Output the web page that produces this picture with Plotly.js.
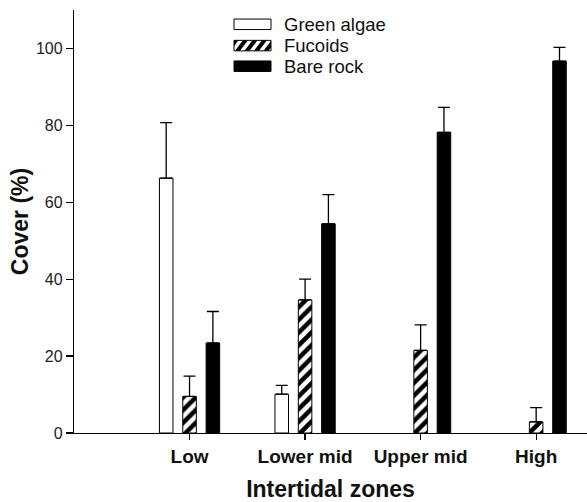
<!DOCTYPE html>
<html>
<head>
<meta charset="utf-8">
<script src="https://cdn.plot.ly/plotly-3.0.1.min.js"></script>
<style>html,body{margin:0;padding:0;background:#fff;}#chart{width:587px;height:502px;}</style>
</head>
<body>
<div id="chart"></div>
<script>
var zones = ["Low", "Lower mid", "Upper mid", "High"];
var greenAlgae = [66.3, 10.1, null, null];
var greenAlgaeErr = [14.4, 2.3, null, null];
var fucoids = [9.5, 34.6, 21.5, 2.9];
var fucoidsErr = [5.3, 5.4, 6.6, 3.7];
var bareRock = [23.4, 54.4, 78.2, 96.7];
var bareRockErr = [8.2, 7.6, 6.5, 3.6];
var seriesNames = ["Green algae", "Fucoids", "Bare rock"];

var FONT = "Liberation Sans, Arial, sans-serif";
var W = 587, H = 502, ML = 74, MR = 0, MT = 10, MB = 69;
var PW = W - ML - MR, PH = H - MT - MB;
function px(x) { return (x - ML) / PW; }
function py(y) { return (H - MB - y) / PH; }

function errOpts(arr) {
  return {type: "data", array: arr, symmetric: false, arrayminus: arr.map(function(){return 0;}),
          color: "#000", thickness: 1.3, width: 6};
}

var traces = [
  {type: "bar", name: seriesNames[0], x: zones, y: greenAlgae, showlegend: false,
   marker: {color: "#fff", line: {color: "#000", width: 1}},
   error_y: errOpts(greenAlgaeErr)},
  {type: "bar", name: seriesNames[1], x: zones, y: fucoids, showlegend: false,
   marker: {color: "#fff", line: {color: "#000", width: 1},
            pattern: {shape: "/", fgcolor: "#000", bgcolor: "#fff", size: 9, solidity: 0.5}},
   error_y: errOpts(fucoidsErr)},
  {type: "bar", name: seriesNames[2], x: zones, y: bareRock, showlegend: false,
   marker: {color: "#000", line: {color: "#000", width: 1}},
   error_y: errOpts(bareRockErr)}
];

// Custom legend with wide swatches (like the original)
var shapes = [], annotations = [];
var sx0 = 234, sx1 = 271, sh = 10.5, rows = [24.3, 45.6, 66.2], tx = 282;
var fills = ["#fff", "#fff", "#000"];
function clipPoly(poly, xmin, xmax, ymin, ymax) {
  var edges = [
    function(p){return p[0] >= xmin;}, function(p){return p[0] <= xmax;},
    function(p){return p[1] >= ymin;}, function(p){return p[1] <= ymax;}
  ];
  var inter = [
    function(a,b){var t=(xmin-a[0])/(b[0]-a[0]);return [xmin,a[1]+t*(b[1]-a[1])];},
    function(a,b){var t=(xmax-a[0])/(b[0]-a[0]);return [xmax,a[1]+t*(b[1]-a[1])];},
    function(a,b){var t=(ymin-a[1])/(b[1]-a[1]);return [a[0]+t*(b[0]-a[0]),ymin];},
    function(a,b){var t=(ymax-a[1])/(b[1]-a[1]);return [a[0]+t*(b[0]-a[0]),ymax];}
  ];
  var out = poly;
  for (var e = 0; e < 4; e++) {
    var inp = out; out = [];
    for (var i = 0; i < inp.length; i++) {
      var cur = inp[i], prev = inp[(i + inp.length - 1) % inp.length];
      var cIn = edges[e](cur), pIn = edges[e](prev);
      if (cIn) { if (!pIn) out.push(inter[e](prev, cur)); out.push(cur); }
      else if (pIn) out.push(inter[e](prev, cur));
    }
    if (!out.length) break;
  }
  return out;
}
rows.forEach(function(cy, i) {
  var y0 = cy - sh / 2, y1 = cy + sh / 2;
  shapes.push({type: "rect", xref: "paper", yref: "paper", layer: "above",
    x0: px(sx0), x1: px(sx1), y0: py(y1), y1: py(y0),
    fillcolor: fills[i], line: {color: "#000", width: 1}});
  if (i === 1) {
    for (var k = -1; k < 5; k++) {
      var b = sx0 + 1 + k * 9.5;
      var poly = [[b, y1], [b + 5, y1], [b + 13, y0], [b + 8, y0]];
      var c = clipPoly(poly, sx0, sx1, y0, y1);
      if (c.length < 3) continue;
      var d = c.map(function(p, j){ return (j ? "L" : "M") + px(p[0]).toFixed(5) + "," + py(p[1]).toFixed(5); }).join("") + "Z";
      shapes.push({type: "path", xref: "paper", yref: "paper", layer: "above", path: d,
        fillcolor: "#000", line: {width: 0}});
    }
  }
  annotations.push({xref: "paper", yref: "paper", x: px(tx), y: py(cy), xanchor: "left", yanchor: "middle",
    text: seriesNames[i], showarrow: false, font: {family: FONT, size: 18.5, color: "#111"}});
});

var layout = {
  width: W, height: H,
  margin: {l: ML, r: MR, t: MT, b: MB},
  paper_bgcolor: "#fff", plot_bgcolor: "#fff",
  font: {family: FONT, color: "#111"},
  barmode: "group",
  bargap: 0.394,
  bargroupgap: 0.42,
  showlegend: false,
  shapes: shapes,
  annotations: annotations,
  xaxis: {
    type: "category", range: [-1.0, 3.44], showgrid: false, zeroline: false,
    showline: true, linecolor: "#000", linewidth: 1.2,
    ticks: "outside", ticklen: 6, tickcolor: "#000", tickwidth: 1.2,
    tickfont: {family: FONT, size: 19, color: "#111", weight: "bold"},
    title: {text: "<b>Intertidal zones</b>", font: {family: FONT, size: 23, color: "#111"}, standoff: 18}
  },
  yaxis: {
    range: [0, 110], tickvals: [0, 20, 40, 60, 80, 100], showgrid: false, zeroline: false,
    showline: true, linecolor: "#000", linewidth: 1.2,
    ticks: "outside", ticklen: 7, tickcolor: "#000", tickwidth: 1.2,
    tickfont: {family: FONT, size: 16, color: "#222"},
    title: {text: "<b>Cover (%)</b>", font: {family: FONT, size: 23, color: "#111"}, standoff: 0}
  }
};

Plotly.newPlot("chart", traces, layout, {displayModeBar: false, staticPlot: true});
</script>
</body>
</html>
